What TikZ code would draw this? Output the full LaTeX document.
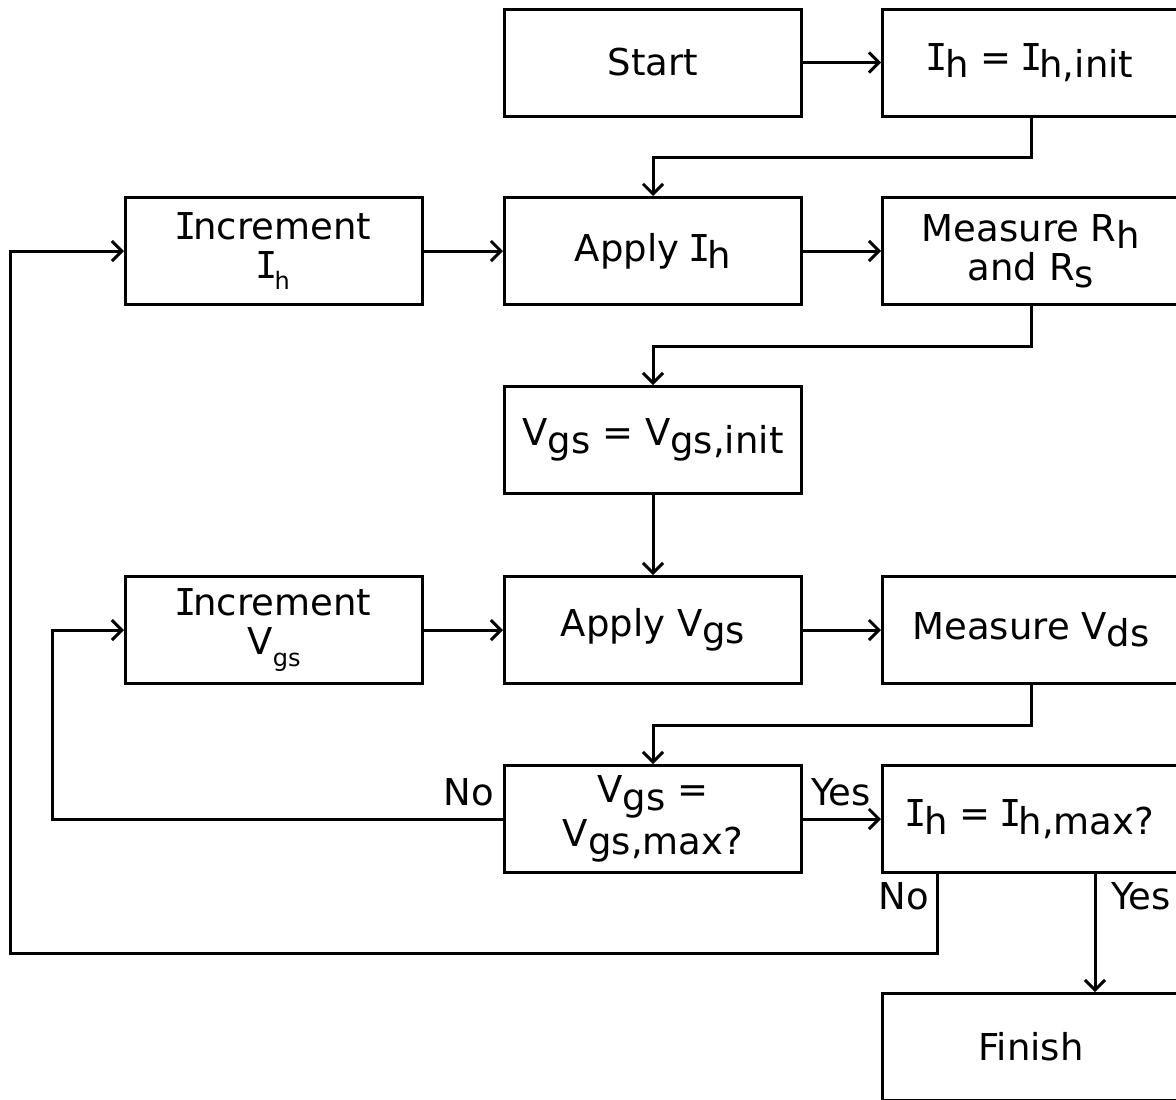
\documentclass[tikz,border=0pt]{standalone}
\usepackage{fontspec}
\setmainfont{DejaVu Sans}
\newfontfamily\serifI{DejaVu Sans Mono}
\usetikzlibrary{arrows.meta,positioning}
\newcommand{\I}{{\serifI\kern-0.08em I\kern-0.08em}}
\newcommand{\lo}[1]{\raisebox{-0.2em}{#1}}
\newcommand{\sml}[1]{\raisebox{-0.3em}{\fontsize{12}{12}\selectfont #1}}
\tikzset{
	box/.style={draw,rectangle,align=center,minimum width=148.5pt,minimum height=53.5pt,line width=1.5pt,font=\fontsize{18.5}{19.5}\selectfont},
	lbl/.style={inner sep=0pt,font=\fontsize{18.5}{19.5}\selectfont},
	-arr/.style={-{Straight Barb[length=5pt,width=10pt]}}
}
\begin{document}
\begin{tikzpicture}[x=0.5pt,y=-0.5pt,line width=1.5pt]
            \clip (0,0) rectangle (1176,1099);
            \node[box] (start) at (653,62.5) {Start};
            \node[box] (hinit) at (1031,62.5) {\I\lo{h} = \I\lo{h,init}};
            \node[box] (incih) at (274,251) {\I ncrement\\\I\sml{h}};
            \node[box] (applyih) at (653,251) {Apply \I\lo{h}};
            \node[box] (meas) at (1031,251) {Measure R\lo{h}\\and R\lo{s}};
            \node[box] (vinit) at (653,440) {V\lo{gs} = V\lo{gs,init}};
            \node[box] (incvg) at (274,630) {\I ncrement\\V\sml{gs}};
            \node[box] (applyvg) at (653,630) {Apply V\lo{gs}};
            \node[box] (measv) at (1031,630) {Measure V\lo{ds}};
            \node[box] (vmax) at (653,819) {V\lo{gs} =\\V\lo{gs,max?}};
            \node[box] (hmax) at (1031,819) {\I\lo{h} = \I\lo{h,max?}};
            \node[box] (fin) at (1031,1047) {Finish};
            \node[lbl] (no1) at (469,792) {No};
            \node[lbl] (yes1) at (841,792) {Yes};
            \node[lbl] (no2) at (904,896) {No};
            \node[lbl] (yes2) at (1141,896) {Yes};
            \coordinate (vloop) at (52,819);
            \coordinate (hloop) at (10,953);
            \draw[-arr] (start) -- (hinit);
            \draw[-arr] (hinit.south) -- ++(0,40) -| (applyih.north);
            \draw[-arr] (incih) -- (applyih);
            \draw[-arr] (applyih) -- (meas);
            \draw[-arr] (meas.south) -- ++(0,40) -| (vinit.north);
            \draw[-arr] (vinit) -- (applyvg);
            \draw[-arr] (incvg) -- (applyvg);
            \draw[-arr] (applyvg) -- (measv);
            \draw[-arr] (measv.south) -- ++(0,40) -| (vmax.north);
            \draw[-arr] (vmax) -- (hmax);
            \draw[-arr] (vmax.west) -- (vloop) |- (incvg.west);
            \draw[-arr] ([xshift=-47pt]hmax.south) |- (hloop) |- (incih.west);
            \draw[-arr] ([xshift=32pt]hmax.south) -- ([xshift=32pt]fin.north);
        \end{tikzpicture}
\end{document}
